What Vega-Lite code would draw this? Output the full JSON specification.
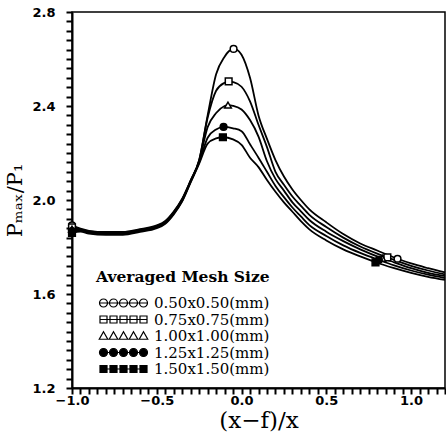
{
  "$schema": "https://vega.github.io/schema/vega-lite/v6.json",
  "width": 373,
  "height": 376,
  "autosize": "none",
  "padding": {"left": 72, "top": 12, "right": 1, "bottom": 44},
  "background": "white",
  "config": {
    "view": {"stroke": "black", "strokeWidth": 1.5}
  },
  "data": {"values": [
    {"s":"0.50x0.50(mm)","x":-1.0,"y":1.892,"m":1},{"s":"0.50x0.50(mm)","x":-0.95,"y":1.878,"m":0},{"s":"0.50x0.50(mm)","x":-0.9,"y":1.869,"m":0},{"s":"0.50x0.50(mm)","x":-0.8,"y":1.864,"m":0},{"s":"0.50x0.50(mm)","x":-0.7,"y":1.864,"m":0},{"s":"0.50x0.50(mm)","x":-0.6,"y":1.876,"m":0},{"s":"0.50x0.50(mm)","x":-0.5,"y":1.892,"m":0},{"s":"0.50x0.50(mm)","x":-0.45,"y":1.911,"m":0},{"s":"0.50x0.50(mm)","x":-0.4,"y":1.951,"m":0},{"s":"0.50x0.50(mm)","x":-0.35,"y":2.006,"m":0},{"s":"0.50x0.50(mm)","x":-0.3,"y":2.084,"m":0},{"s":"0.50x0.50(mm)","x":-0.25,"y":2.17,"m":0},{"s":"0.50x0.50(mm)","x":-0.2,"y":2.36,"m":0},{"s":"0.50x0.50(mm)","x":-0.15,"y":2.535,"m":0},{"s":"0.50x0.50(mm)","x":-0.1,"y":2.61,"m":0},{"s":"0.50x0.50(mm)","x":-0.075,"y":2.633,"m":0},{"s":"0.50x0.50(mm)","x":-0.047,"y":2.643,"m":1},{"s":"0.50x0.50(mm)","x":-0.025,"y":2.638,"m":0},{"s":"0.50x0.50(mm)","x":0.0,"y":2.618,"m":0},{"s":"0.50x0.50(mm)","x":0.05,"y":2.52,"m":0},{"s":"0.50x0.50(mm)","x":0.1,"y":2.36,"m":0},{"s":"0.50x0.50(mm)","x":0.15,"y":2.26,"m":0},{"s":"0.50x0.50(mm)","x":0.2,"y":2.17,"m":0},{"s":"0.50x0.50(mm)","x":0.25,"y":2.1,"m":0},{"s":"0.50x0.50(mm)","x":0.3,"y":2.045,"m":0},{"s":"0.50x0.50(mm)","x":0.35,"y":2.0,"m":0},{"s":"0.50x0.50(mm)","x":0.4,"y":1.96,"m":0},{"s":"0.50x0.50(mm)","x":0.5,"y":1.905,"m":0},{"s":"0.50x0.50(mm)","x":0.6,"y":1.855,"m":0},{"s":"0.50x0.50(mm)","x":0.7,"y":1.815,"m":0},{"s":"0.50x0.50(mm)","x":0.8,"y":1.785,"m":0},{"s":"0.50x0.50(mm)","x":0.92,"y":1.75,"m":1},{"s":"0.50x0.50(mm)","x":1.0,"y":1.73,"m":0},{"s":"0.50x0.50(mm)","x":1.1,"y":1.71,"m":0},{"s":"0.50x0.50(mm)","x":1.2,"y":1.692,"m":0},
    {"s":"0.75x0.75(mm)","x":-1.0,"y":1.884,"m":1},{"s":"0.75x0.75(mm)","x":-0.95,"y":1.875,"m":0},{"s":"0.75x0.75(mm)","x":-0.9,"y":1.866,"m":0},{"s":"0.75x0.75(mm)","x":-0.8,"y":1.861,"m":0},{"s":"0.75x0.75(mm)","x":-0.7,"y":1.861,"m":0},{"s":"0.75x0.75(mm)","x":-0.6,"y":1.873,"m":0},{"s":"0.75x0.75(mm)","x":-0.5,"y":1.889,"m":0},{"s":"0.75x0.75(mm)","x":-0.45,"y":1.908,"m":0},{"s":"0.75x0.75(mm)","x":-0.4,"y":1.948,"m":0},{"s":"0.75x0.75(mm)","x":-0.35,"y":2.003,"m":0},{"s":"0.75x0.75(mm)","x":-0.3,"y":2.082,"m":0},{"s":"0.75x0.75(mm)","x":-0.25,"y":2.168,"m":0},{"s":"0.75x0.75(mm)","x":-0.2,"y":2.35,"m":0},{"s":"0.75x0.75(mm)","x":-0.15,"y":2.465,"m":0},{"s":"0.75x0.75(mm)","x":-0.1,"y":2.499,"m":0},{"s":"0.75x0.75(mm)","x":-0.076,"y":2.505,"m":1},{"s":"0.75x0.75(mm)","x":-0.05,"y":2.502,"m":0},{"s":"0.75x0.75(mm)","x":0.0,"y":2.482,"m":0},{"s":"0.75x0.75(mm)","x":0.05,"y":2.42,"m":0},{"s":"0.75x0.75(mm)","x":0.1,"y":2.32,"m":0},{"s":"0.75x0.75(mm)","x":0.15,"y":2.225,"m":0},{"s":"0.75x0.75(mm)","x":0.2,"y":2.12,"m":0},{"s":"0.75x0.75(mm)","x":0.25,"y":2.065,"m":0},{"s":"0.75x0.75(mm)","x":0.3,"y":2.015,"m":0},{"s":"0.75x0.75(mm)","x":0.35,"y":1.975,"m":0},{"s":"0.75x0.75(mm)","x":0.4,"y":1.937,"m":0},{"s":"0.75x0.75(mm)","x":0.5,"y":1.885,"m":0},{"s":"0.75x0.75(mm)","x":0.6,"y":1.84,"m":0},{"s":"0.75x0.75(mm)","x":0.7,"y":1.802,"m":0},{"s":"0.75x0.75(mm)","x":0.8,"y":1.772,"m":0},{"s":"0.75x0.75(mm)","x":0.86,"y":1.756,"m":1},{"s":"0.75x0.75(mm)","x":0.9,"y":1.745,"m":0},{"s":"0.75x0.75(mm)","x":1.0,"y":1.72,"m":0},{"s":"0.75x0.75(mm)","x":1.1,"y":1.7,"m":0},{"s":"0.75x0.75(mm)","x":1.2,"y":1.684,"m":0},
    {"s":"1.00x1.00(mm)","x":-1.0,"y":1.876,"m":1},{"s":"1.00x1.00(mm)","x":-0.95,"y":1.872,"m":0},{"s":"1.00x1.00(mm)","x":-0.9,"y":1.863,"m":0},{"s":"1.00x1.00(mm)","x":-0.8,"y":1.858,"m":0},{"s":"1.00x1.00(mm)","x":-0.7,"y":1.858,"m":0},{"s":"1.00x1.00(mm)","x":-0.6,"y":1.87,"m":0},{"s":"1.00x1.00(mm)","x":-0.5,"y":1.886,"m":0},{"s":"1.00x1.00(mm)","x":-0.45,"y":1.905,"m":0},{"s":"1.00x1.00(mm)","x":-0.4,"y":1.945,"m":0},{"s":"1.00x1.00(mm)","x":-0.35,"y":2.0,"m":0},{"s":"1.00x1.00(mm)","x":-0.3,"y":2.08,"m":0},{"s":"1.00x1.00(mm)","x":-0.25,"y":2.165,"m":0},{"s":"1.00x1.00(mm)","x":-0.2,"y":2.31,"m":0},{"s":"1.00x1.00(mm)","x":-0.15,"y":2.37,"m":0},{"s":"1.00x1.00(mm)","x":-0.1,"y":2.4,"m":0},{"s":"1.00x1.00(mm)","x":-0.08,"y":2.404,"m":1},{"s":"1.00x1.00(mm)","x":-0.05,"y":2.401,"m":0},{"s":"1.00x1.00(mm)","x":0.0,"y":2.385,"m":0},{"s":"1.00x1.00(mm)","x":0.05,"y":2.34,"m":0},{"s":"1.00x1.00(mm)","x":0.1,"y":2.27,"m":0},{"s":"1.00x1.00(mm)","x":0.15,"y":2.165,"m":0},{"s":"1.00x1.00(mm)","x":0.2,"y":2.09,"m":0},{"s":"1.00x1.00(mm)","x":0.25,"y":2.04,"m":0},{"s":"1.00x1.00(mm)","x":0.3,"y":1.99,"m":0},{"s":"1.00x1.00(mm)","x":0.35,"y":1.952,"m":0},{"s":"1.00x1.00(mm)","x":0.4,"y":1.915,"m":0},{"s":"1.00x1.00(mm)","x":0.5,"y":1.865,"m":0},{"s":"1.00x1.00(mm)","x":0.6,"y":1.825,"m":0},{"s":"1.00x1.00(mm)","x":0.7,"y":1.79,"m":0},{"s":"1.00x1.00(mm)","x":0.83,"y":1.752,"m":1},{"s":"1.00x1.00(mm)","x":0.9,"y":1.735,"m":0},{"s":"1.00x1.00(mm)","x":1.0,"y":1.71,"m":0},{"s":"1.00x1.00(mm)","x":1.1,"y":1.69,"m":0},{"s":"1.00x1.00(mm)","x":1.2,"y":1.676,"m":0},
    {"s":"1.25x1.25(mm)","x":-1.0,"y":1.868,"m":1},{"s":"1.25x1.25(mm)","x":-0.95,"y":1.869,"m":0},{"s":"1.25x1.25(mm)","x":-0.9,"y":1.86,"m":0},{"s":"1.25x1.25(mm)","x":-0.8,"y":1.855,"m":0},{"s":"1.25x1.25(mm)","x":-0.7,"y":1.855,"m":0},{"s":"1.25x1.25(mm)","x":-0.6,"y":1.867,"m":0},{"s":"1.25x1.25(mm)","x":-0.5,"y":1.883,"m":0},{"s":"1.25x1.25(mm)","x":-0.45,"y":1.902,"m":0},{"s":"1.25x1.25(mm)","x":-0.4,"y":1.942,"m":0},{"s":"1.25x1.25(mm)","x":-0.35,"y":1.997,"m":0},{"s":"1.25x1.25(mm)","x":-0.3,"y":2.078,"m":0},{"s":"1.25x1.25(mm)","x":-0.25,"y":2.16,"m":0},{"s":"1.25x1.25(mm)","x":-0.2,"y":2.265,"m":0},{"s":"1.25x1.25(mm)","x":-0.15,"y":2.3,"m":0},{"s":"1.25x1.25(mm)","x":-0.106,"y":2.311,"m":1},{"s":"1.25x1.25(mm)","x":-0.05,"y":2.305,"m":0},{"s":"1.25x1.25(mm)","x":0.0,"y":2.293,"m":0},{"s":"1.25x1.25(mm)","x":0.05,"y":2.237,"m":0},{"s":"1.25x1.25(mm)","x":0.1,"y":2.18,"m":0},{"s":"1.25x1.25(mm)","x":0.15,"y":2.12,"m":0},{"s":"1.25x1.25(mm)","x":0.2,"y":2.06,"m":0},{"s":"1.25x1.25(mm)","x":0.25,"y":2.012,"m":0},{"s":"1.25x1.25(mm)","x":0.3,"y":1.968,"m":0},{"s":"1.25x1.25(mm)","x":0.35,"y":1.93,"m":0},{"s":"1.25x1.25(mm)","x":0.4,"y":1.893,"m":0},{"s":"1.25x1.25(mm)","x":0.5,"y":1.847,"m":0},{"s":"1.25x1.25(mm)","x":0.6,"y":1.807,"m":0},{"s":"1.25x1.25(mm)","x":0.7,"y":1.775,"m":0},{"s":"1.25x1.25(mm)","x":0.81,"y":1.745,"m":1},{"s":"1.25x1.25(mm)","x":0.9,"y":1.722,"m":0},{"s":"1.25x1.25(mm)","x":1.0,"y":1.7,"m":0},{"s":"1.25x1.25(mm)","x":1.1,"y":1.682,"m":0},{"s":"1.25x1.25(mm)","x":1.2,"y":1.668,"m":0},
    {"s":"1.50x1.50(mm)","x":-1.0,"y":1.86,"m":1},{"s":"1.50x1.50(mm)","x":-0.95,"y":1.866,"m":0},{"s":"1.50x1.50(mm)","x":-0.9,"y":1.857,"m":0},{"s":"1.50x1.50(mm)","x":-0.8,"y":1.852,"m":0},{"s":"1.50x1.50(mm)","x":-0.7,"y":1.852,"m":0},{"s":"1.50x1.50(mm)","x":-0.6,"y":1.864,"m":0},{"s":"1.50x1.50(mm)","x":-0.5,"y":1.88,"m":0},{"s":"1.50x1.50(mm)","x":-0.45,"y":1.899,"m":0},{"s":"1.50x1.50(mm)","x":-0.4,"y":1.939,"m":0},{"s":"1.50x1.50(mm)","x":-0.35,"y":1.994,"m":0},{"s":"1.50x1.50(mm)","x":-0.3,"y":2.075,"m":0},{"s":"1.50x1.50(mm)","x":-0.25,"y":2.155,"m":0},{"s":"1.50x1.50(mm)","x":-0.2,"y":2.24,"m":0},{"s":"1.50x1.50(mm)","x":-0.15,"y":2.262,"m":0},{"s":"1.50x1.50(mm)","x":-0.11,"y":2.267,"m":1},{"s":"1.50x1.50(mm)","x":-0.05,"y":2.258,"m":0},{"s":"1.50x1.50(mm)","x":0.0,"y":2.235,"m":0},{"s":"1.50x1.50(mm)","x":0.05,"y":2.18,"m":0},{"s":"1.50x1.50(mm)","x":0.1,"y":2.14,"m":0},{"s":"1.50x1.50(mm)","x":0.15,"y":2.085,"m":0},{"s":"1.50x1.50(mm)","x":0.2,"y":2.035,"m":0},{"s":"1.50x1.50(mm)","x":0.25,"y":1.99,"m":0},{"s":"1.50x1.50(mm)","x":0.3,"y":1.95,"m":0},{"s":"1.50x1.50(mm)","x":0.35,"y":1.91,"m":0},{"s":"1.50x1.50(mm)","x":0.4,"y":1.875,"m":0},{"s":"1.50x1.50(mm)","x":0.5,"y":1.828,"m":0},{"s":"1.50x1.50(mm)","x":0.6,"y":1.79,"m":0},{"s":"1.50x1.50(mm)","x":0.7,"y":1.76,"m":0},{"s":"1.50x1.50(mm)","x":0.79,"y":1.735,"m":1},{"s":"1.50x1.50(mm)","x":0.9,"y":1.71,"m":0},{"s":"1.50x1.50(mm)","x":1.0,"y":1.69,"m":0},{"s":"1.50x1.50(mm)","x":1.1,"y":1.673,"m":0},{"s":"1.50x1.50(mm)","x":1.2,"y":1.66,"m":0}
  ]},
  "encoding": {
    "x": {"field": "x", "type": "quantitative", "scale": {"domain": [-1, 1.2], "nice": false, "zero": false},
      "axis": {"title": "(x−f)/x", "titleFont": "DejaVu Serif", "titleFontWeight": "normal", "titleColor": "black", "titleFontSize": 23, "titleY": 39, "titleBaseline": "alphabetic",
        "labelFont": "DejaVu Sans", "labelFontWeight": 700, "labelFontSize": 13, "labelColor": "black", "labelPadding": 0, "labelFlush": false, "labelOverlap": false,
        "domainColor": "black", "domainWidth": 2, "ticks": true, "tickSize": 6, "tickWidth": 2, "tickColor": "#000000", "tickOpacity": 1, "grid": false,
        "values": [-1,-0.95,-0.9,-0.85,-0.8,-0.75,-0.7,-0.65,-0.6,-0.55,-0.5,-0.45,-0.4,-0.35,-0.3,-0.25,-0.2,-0.15,-0.1,-0.05,0,0.05,0.1,0.15,0.2,0.25,0.3,0.35,0.4,0.45,0.5,0.55,0.6,0.65,0.7,0.75,0.8,0.85,0.9,0.95,1,1.05,1.1,1.15,1.2],
        "labelExpr": "abs(datum.value*2-round(datum.value*2))<0.001 ? format(datum.value,'.1f') : ''"}},
    "y": {"field": "y", "type": "quantitative", "scale": {"domain": [1.2, 2.8], "nice": false, "zero": false},
      "axis": {"title": "Pₘₐₓ/P₁", "titleFont": "DejaVu Serif", "titleFontWeight": "normal", "titleColor": "black", "titleFontSize": 21, "titlePadding": 6,
        "labelFont": "DejaVu Sans", "labelFontWeight": 700, "labelFontSize": 13, "labelColor": "black", "labelPadding": 11, "labelFlush": false, "labelOverlap": false,
        "domainColor": "black", "domainWidth": 2, "ticks": true, "tickSize": 6, "tickWidth": 2, "tickColor": "#000000", "tickOpacity": 1, "grid": false,
        "values": [1.2,1.24,1.28,1.32,1.36,1.4,1.44,1.48,1.52,1.56,1.6,1.64,1.68,1.72,1.76,1.8,1.84,1.88,1.92,1.96,2.0,2.04,2.08,2.12,2.16,2.2,2.24,2.28,2.32,2.36,2.4,2.44,2.48,2.52,2.56,2.6,2.64,2.68,2.72,2.76,2.8],
        "labelExpr": "abs(datum.value*2.5-round(datum.value*2.5))<0.001 ? format(datum.value,'.1f') : ''"}}
  },
  "layer": [
    {"mark": {"type": "line", "interpolate": "monotone", "color": "black", "strokeWidth": 1.8},
     "encoding": {"detail": {"field": "s"}}},
    {"transform": [{"filter": "datum.m == 1"}],
     "mark": {"type": "point", "filled": true, "size": 45, "stroke": "black", "strokeWidth": 1.5, "opacity": 1},
     "encoding": {
       "shape": {"field": "s", "type": "nominal", "scale": {"domain": ["0.50x0.50(mm)","0.75x0.75(mm)","1.00x1.00(mm)","1.25x1.25(mm)","1.50x1.50(mm)"], "range": ["circle","square","triangle-up","circle","square"]}, "legend": null},
       "fill": {"field": "s", "type": "nominal", "scale": {"domain": ["0.50x0.50(mm)","0.75x0.75(mm)","1.00x1.00(mm)","1.25x1.25(mm)","1.50x1.50(mm)"], "range": ["white","white","white","black","black"]}, "legend": null}
     }},
    {"transform": [{"filter": "false"}],
     "mark": {"type": "point", "filled": true, "strokeWidth": 1.2, "opacity": 1},
     "encoding": {
       "shape": {"field": "s", "type": "nominal", "scale": {"domain": ["0.50x0.50(mm)","0.75x0.75(mm)","1.00x1.00(mm)","1.25x1.25(mm)","1.50x1.50(mm)"], "range": [
         "M-0.8,0L8.8,0M-0.8,0A0.8 0.8 0 1 1 0.8,0A0.8 0.8 0 1 1 -0.8,0ZM1.2,0A0.8 0.8 0 1 1 2.8,0A0.8 0.8 0 1 1 1.2,0ZM3.2,0A0.8 0.8 0 1 1 4.8,0A0.8 0.8 0 1 1 3.2,0ZM5.2,0A0.8 0.8 0 1 1 6.8,0A0.8 0.8 0 1 1 5.2,0ZM7.2,0A0.8 0.8 0 1 1 8.8,0A0.8 0.8 0 1 1 7.2,0Z",
         "M-0.7,0L8.7,0M-0.7,-0.7L0.7,-0.7L0.7,0.7L-0.7,0.7ZM1.3,-0.7L2.7,-0.7L2.7,0.7L1.3,0.7ZM3.3,-0.7L4.7,-0.7L4.7,0.7L3.3,0.7ZM5.3,-0.7L6.7,-0.7L6.7,0.7L5.3,0.7ZM7.3,-0.7L8.7,-0.7L8.7,0.7L7.3,0.7Z",
         "M-0.85,0.65L8.85,0.65M0,-0.85L0.85,0.65L-0.85,0.65ZM2,-0.85L2.85,0.65L1.15,0.65ZM4,-0.85L4.85,0.65L3.15,0.65ZM6,-0.85L6.85,0.65L5.15,0.65ZM8,-0.85L8.85,0.65L7.15,0.65Z",
         "M-0.8,0L8.8,0M-0.8,0A0.8 0.8 0 1 1 0.8,0A0.8 0.8 0 1 1 -0.8,0ZM1.2,0A0.8 0.8 0 1 1 2.8,0A0.8 0.8 0 1 1 1.2,0ZM3.2,0A0.8 0.8 0 1 1 4.8,0A0.8 0.8 0 1 1 3.2,0ZM5.2,0A0.8 0.8 0 1 1 6.8,0A0.8 0.8 0 1 1 5.2,0ZM7.2,0A0.8 0.8 0 1 1 8.8,0A0.8 0.8 0 1 1 7.2,0Z",
         "M-0.7,0L8.7,0M-0.7,-0.7L0.7,-0.7L0.7,0.7L-0.7,0.7ZM1.3,-0.7L2.7,-0.7L2.7,0.7L1.3,0.7ZM3.3,-0.7L4.7,-0.7L4.7,0.7L3.3,0.7ZM5.3,-0.7L6.7,-0.7L6.7,0.7L5.3,0.7ZM7.3,-0.7L8.7,-0.7L8.7,0.7L7.3,0.7Z"
       ]},
         "legend": {"orient": "none", "legendX": 24, "legendY": 258, "title": "Averaged Mesh Size", "titleFont": "DejaVu Serif", "titleFontWeight": "bold", "titleFontSize": 15.5, "titleColor": "black", "titlePadding": 10, "labelFont": "DejaVu Serif", "labelFontSize": 15, "labelColor": "black", "labelOffset": 43, "symbolSize": 100, "symbolStrokeWidth": 1.2, "rowPadding": 0.5, "padding": 0}},
       "fill": {"field": "s", "type": "nominal", "scale": {"domain": ["0.50x0.50(mm)","0.75x0.75(mm)","1.00x1.00(mm)","1.25x1.25(mm)","1.50x1.50(mm)"], "range": ["white","white","white","black","black"]},
         "legend": {"orient": "none", "legendX": 24, "legendY": 258, "title": "Averaged Mesh Size", "titleFont": "DejaVu Serif", "titleFontWeight": "bold", "titleFontSize": 15.5, "titleColor": "black", "titlePadding": 10, "labelFont": "DejaVu Serif", "labelFontSize": 15, "labelColor": "black", "labelOffset": 43, "symbolSize": 100, "symbolStrokeWidth": 1.2, "rowPadding": 0.5, "padding": 0}},
       "stroke": {"field": "s", "type": "nominal", "scale": {"domain": ["0.50x0.50(mm)","0.75x0.75(mm)","1.00x1.00(mm)","1.25x1.25(mm)","1.50x1.50(mm)"], "range": ["black","black","black","black","black"]},
         "legend": {"orient": "none", "legendX": 24, "legendY": 258, "title": "Averaged Mesh Size", "titleFont": "DejaVu Serif", "titleFontWeight": "bold", "titleFontSize": 15.5, "titleColor": "black", "titlePadding": 10, "labelFont": "DejaVu Serif", "labelFontSize": 15, "labelColor": "black", "labelOffset": 43, "symbolSize": 100, "symbolStrokeWidth": 1.2, "rowPadding": 0.5, "padding": 0}}
     }}
  ],
  "resolve": {"scale": {"shape": "independent", "fill": "independent", "stroke": "independent"}}
}
